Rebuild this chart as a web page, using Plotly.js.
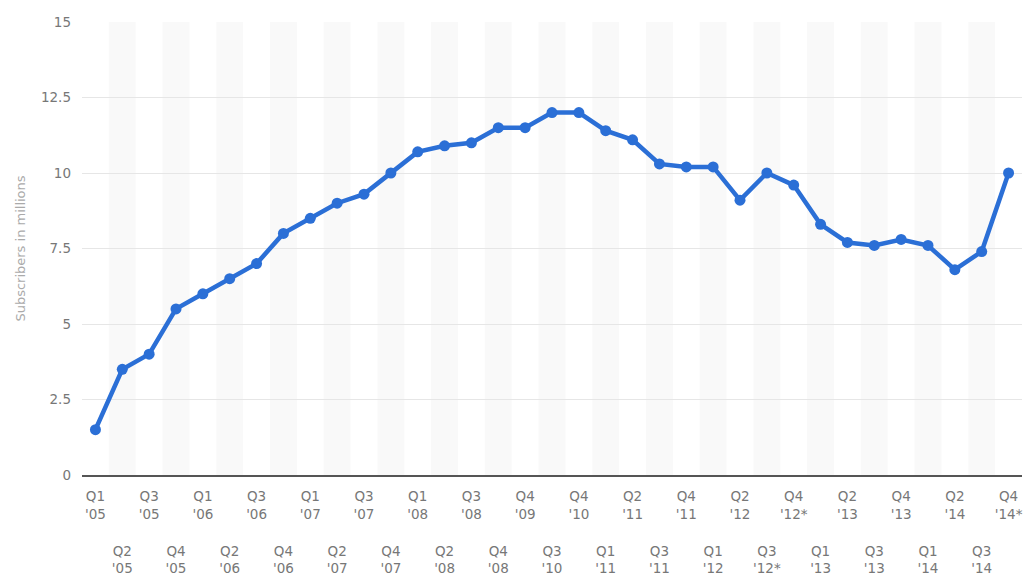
<!DOCTYPE html>
<html>
<head>
<meta charset="utf-8">
<script src="https://cdn.plot.ly/plotly-3.0.1.min.js"></script>
<style>
  html, body { margin: 0; padding: 0; background: #ffffff; }
  #chart { width: 1023px; height: 578px; }
</style>
</head>
<body>
<div id="chart"></div>
<script>
// Quarter keys (x categories) and the two-line labels shown under the axis
const quarters = [
  "Q1 '05", "Q2 '05", "Q3 '05", "Q4 '05",
  "Q1 '06", "Q2 '06", "Q3 '06", "Q4 '06",
  "Q1 '07", "Q2 '07", "Q3 '07", "Q4 '07",
  "Q1 '08", "Q2 '08", "Q3 '08", "Q4 '08",
  "Q4 '09", "Q3 '10", "Q4 '10",
  "Q1 '11", "Q2 '11", "Q3 '11", "Q4 '11",
  "Q1 '12", "Q2 '12", "Q3 '12*", "Q4 '12*",
  "Q1 '13", "Q2 '13", "Q3 '13", "Q4 '13",
  "Q1 '14", "Q2 '14", "Q3 '14", "Q4 '14*"
];

// Subscribers in millions per quarter
const subscribers = [
  1.5, 3.5, 4.0, 5.5,
  6.0, 6.5, 7.0, 8.0,
  8.5, 9.0, 9.3, 10.0,
  10.7, 10.9, 11.0, 11.5,
  11.5, 12.0, 12.0,
  11.4, 11.1, 10.3, 10.2,
  10.2, 9.1, 10.0, 9.6,
  8.3, 7.7, 7.6, 7.8,
  7.6, 6.8, 7.4, 10.0
];

const yTickValues = [0, 2.5, 5, 7.5, 10, 12.5, 15];
const yTickLabels = ["0", "2.5", "5", "7.5", "10", "12.5", "15"];

// Labels alternate between two rows: even positions on the upper row, odd on the lower
const twoLine = q => q.replace(" ", "<br>");
const upperVals = quarters.filter((q, i) => i % 2 === 0);
const lowerVals = quarters.filter((q, i) => i % 2 === 1);

// Faint shading behind every other quarter
const bands = quarters
  .map((q, i) => i)
  .filter(i => i % 2 === 1)
  .map(i => ({
    type: 'rect', xref: 'x', yref: 'paper',
    x0: i - 0.5, x1: i + 0.5, y0: 0, y1: 1,
    fillcolor: '#f9f9f9', line: { width: 0 }, layer: 'below'
  }));

const tickFont = { family: 'DejaVu Sans, sans-serif', size: 13.5, color: '#777777' };

const traces = [
  {
    type: 'scatter', mode: 'lines+markers',
    x: quarters, y: subscribers,
    line: { color: '#2b6fd6', width: 4.5 },
    marker: { color: '#2b6fd6', size: 11 },
    hoverinfo: 'x+y'
  },
  {
    // same series bound to the lower label axis so that axis carries the categories
    type: 'scatter', mode: 'markers',
    x: quarters, y: subscribers,
    xaxis: 'x2', yaxis: 'y',
    marker: { opacity: 0, size: 1 },
    hoverinfo: 'skip', showlegend: false
  }
];

const layout = {
  width: 1023, height: 578,
  margin: { l: 82, r: 1, t: 22, b: 103 },
  paper_bgcolor: '#ffffff', plot_bgcolor: '#ffffff',
  showlegend: false,
  shapes: bands,
  xaxis: {
    type: 'category',
    range: [-0.5, quarters.length - 0.5],
    showgrid: false, zeroline: false,
    showline: true, linecolor: '#555555', linewidth: 2,
    ticks: '',
    tickmode: 'array', tickvals: upperVals, ticktext: upperVals.map(twoLine),
    tickfont: tickFont, tickangle: 0,
    ticklabelstandoff: 8,
    fixedrange: true
  },
  xaxis2: {
    type: 'category',
    overlaying: 'x', anchor: 'y', side: 'bottom',
    range: [-0.5, quarters.length - 0.5],
    showgrid: false, zeroline: false, showline: false,
    ticks: '',
    tickmode: 'array', tickvals: lowerVals, ticktext: lowerVals.map(twoLine),
    tickfont: tickFont, tickangle: 0,
    ticklabelstandoff: 66,
    fixedrange: true
  },
  yaxis: {
    range: [0, 15],
    tickmode: 'array', tickvals: yTickValues, ticktext: yTickLabels,
    showgrid: true, gridcolor: '#e6e6e6', gridwidth: 1,
    zeroline: false, showline: false, ticks: '',
    tickfont: tickFont,
    ticklabelstandoff: 10,
    title: {
      text: 'Subscribers in millions',
      font: { family: 'DejaVu Sans, sans-serif', size: 13, color: '#aaaaaa' },
      standoff: 12
    },
    fixedrange: true
  }
};

Plotly.newPlot('chart', traces, layout, { displayModeBar: false, staticPlot: true });
</script>
</body>
</html>
